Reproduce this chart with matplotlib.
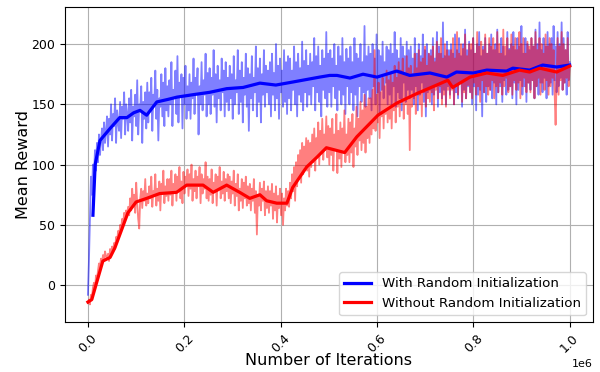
import numpy as np
import matplotlib
matplotlib.use("Agg")
import matplotlib.pyplot as plt

# ---- data ----
blue_raw = [
    -8, 20, 55, 90, 75, 100, 88, 112, 95, 118, 102, 125, 108, 120, 130, 112, 135, 118, 128, 140,
    115, 138, 125, 150, 120, 142, 132, 155, 118, 145, 135, 128, 152, 122, 148, 138, 160, 125, 150, 142,
    128, 155, 135, 162, 120, 148, 140, 158, 132, 170, 125, 150, 145, 165, 118, 152, 138, 160, 130, 168,
    135, 160, 145, 172, 128, 158, 150, 178, 138, 162, 120, 155, 148, 175, 140, 168, 132, 180, 145, 165,
    140, 170, 150, 185, 132, 162, 155, 178, 142, 190, 135, 168, 158, 175, 130, 172, 150, 182, 138, 165,
    145, 175, 138, 168, 155, 188, 142, 172, 160, 180, 125, 165, 150, 185, 145, 170, 158, 192, 140, 176,
    150, 180, 142, 172, 158, 195, 148, 175, 135, 182, 155, 170, 145, 188, 160, 178, 140, 185, 152, 172,
    145, 182, 155, 175, 138, 190, 150, 170, 160, 195, 142, 178, 152, 185, 135, 172, 158, 192, 148, 180,
    128, 175, 155, 190, 145, 172, 160, 198, 140, 180, 152, 188, 135, 175, 158, 195, 148, 182, 160, 178,
    150, 185, 140, 192, 158, 176, 145, 200, 155, 182, 138, 188, 160, 178, 148, 195, 152, 185, 142, 190,
    155, 188, 145, 178, 162, 198, 150, 185, 140, 192, 158, 180, 152, 202, 145, 186, 160, 195, 148, 182,
    158, 192, 150, 185, 165, 205, 145, 190, 160, 198, 152, 182, 140, 195, 162, 188, 155, 210, 148, 192,
    160, 195, 148, 188, 165, 200, 155, 182, 145, 198, 162, 190, 150, 205, 158, 185, 142, 196, 165, 188,
    150, 198, 160, 185, 145, 205, 158, 192, 140, 188, 165, 200, 152, 185, 160, 215, 148, 190, 162, 198,
    155, 192, 145, 200, 165, 188, 150, 208, 160, 195, 142, 190, 162, 202, 155, 185, 168, 198, 150, 195,
    158, 200, 150, 192, 165, 210, 148, 195, 160, 188, 155, 205, 145, 198, 168, 190, 152, 202, 162, 195,
    155, 198, 162, 188, 150, 205, 165, 192, 145, 200, 158, 190, 168, 208, 152, 195, 140, 200, 160, 192,
    162, 195, 150, 205, 158, 188, 165, 210, 148, 198, 160, 192, 155, 218, 162, 190, 150, 202, 165, 195,
    158, 200, 165, 192, 150, 208, 160, 195, 155, 205, 168, 190, 148, 200, 162, 212, 155, 195, 165, 202,
    160, 195, 150, 205, 165, 192, 145, 200, 158, 210, 162, 190, 140, 198, 160, 205, 152, 192, 165, 200,
    162, 208, 155, 195, 168, 200, 150, 212, 160, 192, 165, 205, 152, 198, 170, 190, 158, 210, 162, 196,
    165, 200, 155, 210, 168, 195, 150, 205, 162, 198, 170, 215, 158, 192, 165, 205, 152, 200, 168, 195,
    162, 205, 170, 198, 155, 212, 165, 200, 158, 218, 168, 195, 160, 205, 172, 198, 155, 210, 165, 200,
    168, 205, 158, 215, 170, 198, 160, 210, 165, 200, 172, 218, 162, 205, 168, 195, 158, 210, 170, 185,
]
red_raw = [
    -15, -12, -16, -8, -10, -2, 2, -4, 8, 5, 12, 18, 15, 22, 18, 25, 20, 28, 24, 22,
    26, 20, 30, 24, 32, 28, 35, 30, 40, 36, 45, 40, 50, 46, 55, 50, 60, 54, 62, 58,
    65, 58, 72, 62, 80, 66, 75, 60, 85, 68, 55, 47, 72, 80, 64, 78, 70, 88, 66, 76,
    68, 82, 72, 90, 65, 78, 74, 92, 66, 80, 70, 86, 62, 84, 76, 95, 68, 82, 74, 88,
    70, 88, 75, 95, 66, 84, 78, 92, 70, 90, 80, 98, 72, 86, 68, 94, 76, 90, 82, 96,
    74, 92, 80, 100, 70, 88, 78, 95, 72, 90, 82, 98, 68, 92, 76, 88, 80, 102, 72, 90,
    70, 88, 75, 96, 68, 85, 78, 92, 66, 90, 80, 98, 72, 86, 76, 94, 70, 88, 78, 92,
    72, 90, 68, 86, 76, 95, 66, 84, 74, 92, 62, 80, 70, 88, 64, 85, 72, 90, 66, 82,
    68, 84, 62, 80, 70, 88, 60, 78, 42, 75, 66, 85, 62, 80, 70, 86, 58, 78, 64, 82,
    60, 78, 66, 84, 55, 76, 62, 82, 52, 74, 64, 80, 58, 76, 50, 72, 62, 80, 66, 78,
    65, 85, 72, 92, 78, 98, 70, 102, 82, 108, 88, 112, 85, 118, 92, 115, 98, 122, 95, 120,
    90, 118, 98, 125, 102, 130, 95, 122, 108, 135, 100, 128, 110, 138, 104, 125, 112, 140, 106, 132,
    100, 130, 108, 138, 95, 125, 112, 142, 93, 128, 105, 135, 98, 130, 110, 145, 102, 125, 108, 138,
    102, 135, 110, 142, 98, 130, 115, 148, 108, 138, 120, 152, 112, 145, 118, 158, 110, 148, 122, 155,
    118, 155, 125, 162, 130, 195, 128, 158, 135, 168, 122, 160, 140, 172, 130, 165, 142, 178, 135, 170,
    138, 175, 130, 168, 145, 182, 135, 172, 148, 185, 140, 178, 152, 188, 138, 175, 150, 190, 142, 180,
    112, 182, 148, 175, 155, 192, 142, 180, 158, 195, 150, 185, 140, 188, 160, 198, 148, 182, 155, 192,
    152, 190, 160, 198, 145, 185, 162, 202, 155, 192, 165, 205, 150, 188, 158, 200, 148, 195, 162, 190,
    155, 195, 162, 205, 150, 188, 165, 210, 158, 192, 168, 200, 152, 196, 160, 208, 155, 190, 166, 200,
    160, 200, 155, 205, 168, 192, 158, 210, 165, 198, 152, 202, 170, 195, 160, 208, 165, 192, 158, 205,
    162, 198, 170, 205, 155, 195, 165, 210, 160, 200, 168, 192, 158, 212, 165, 198, 172, 205, 160, 195,
    165, 208, 158, 198, 170, 205, 162, 195, 168, 210, 155, 200, 165, 205, 172, 192, 160, 202, 168, 198,
    160, 205, 170, 198, 155, 210, 165, 195, 172, 205, 158, 200, 168, 192, 162, 208, 170, 198, 158, 205,
    165, 200, 172, 195, 160, 133, 168, 205, 158, 198, 170, 210, 162, 200, 168, 195, 172, 205, 165, 180,
]
raw_steps = np.linspace(0, 1e6, len(blue_raw))

blue_smooth_x = [0.0104, 0.015, 0.025, 0.046, 0.066, 0.081, 0.095, 0.108, 0.122, 0.143, 0.165,
                 0.185, 0.218, 0.253, 0.288, 0.322, 0.357, 0.39, 0.425, 0.481, 0.502, 0.517,
                 0.544, 0.571, 0.6, 0.641, 0.668, 0.71, 0.745, 0.765, 0.8, 0.828, 0.869,
                 0.882, 0.917, 0.944, 0.973, 1.0]
blue_smooth_y = [58, 100, 120, 130, 139, 139, 143, 145, 141, 152, 154,
                 156, 158, 160, 163, 164, 167.6, 166, 168.5, 172.6, 174, 174,
                 171.8, 175, 172.6, 177.6, 174, 176, 172.6, 176.8, 176, 178.4, 177.6,
                 180, 178.4, 182.6, 181, 182.6]

red_smooth_x = [0.0, 0.008, 0.018, 0.031, 0.046, 0.056, 0.07, 0.083, 0.1, 0.122, 0.149, 0.184,
                0.205, 0.239, 0.26, 0.288, 0.315, 0.336, 0.357, 0.371, 0.392, 0.413, 0.425,
                0.454, 0.475, 0.495, 0.533, 0.558, 0.602, 0.641, 0.683, 0.724, 0.747, 0.757,
                0.793, 0.828, 0.861, 0.896, 0.917, 0.938, 0.973, 1.0]
red_smooth_y = [-14, -12, 2, 20, 23, 31, 46, 60, 69, 72, 76, 77,
                83, 83, 77, 83, 77, 72, 75, 70, 68, 68, 81,
                98, 106, 114, 110, 123, 141, 151, 159, 166, 170, 164,
                172.6, 176, 174, 178.4, 176.8, 180, 176.8, 181.7]

labels = ["With Random Initialization", "Without Random Initialization"]

# ---- plot ----
fig = plt.figure(figsize=(6, 3.72), dpi=100)
ax = fig.add_axes([0.108, 0.134, 0.880, 0.847])

ax.plot(raw_steps, blue_raw, color="blue", alpha=0.5, linewidth=1.3)
ax.plot(raw_steps, red_raw, color="red", alpha=0.5, linewidth=1.3)
ax.plot(np.array(blue_smooth_x) * 1e6, blue_smooth_y, color="blue", linewidth=2.3, label=labels[0])
ax.plot(np.array(red_smooth_x) * 1e6, red_smooth_y, color="red", linewidth=2.3, label=labels[1])

ax.set_xlim(-0.048e6, 1.048e6)
ax.set_ylim(-30.7, 230.7)
ax.set_yticks([0, 50, 100, 150, 200])
ax.grid(True)
ax.tick_params(axis="both", labelsize=9)
ax.tick_params(axis="x", labelrotation=45)
ax.set_xlabel("Number of Iterations", fontsize=11.5)
ax.set_ylabel("Mean Reward", fontsize=11.5)
ax.xaxis.set_label_coords(0.5, -0.098)
ax.yaxis.set_label_coords(-0.064, 0.5)
ax.xaxis.get_offset_text().set_fontsize(8)
ax.legend(loc="lower right", fontsize=9.6)

fig.savefig("out.png", dpi=100)
